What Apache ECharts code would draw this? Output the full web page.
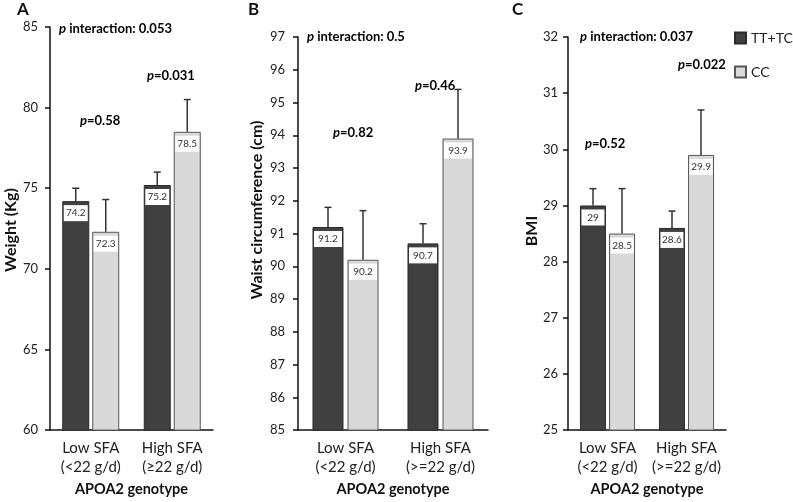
<!DOCTYPE html>
<html>
<head>
<meta charset="utf-8">
<script src="https://cdn.jsdelivr.net/npm/echarts@6/dist/echarts.min.js"></script>
<style>html,body{margin:0;padding:0;background:#fff;}#chart{width:793px;height:502px;}</style>
</head>
<body>
<div id="chart"></div>
<script>
// ---- data ----
var categoriesA = ['Low SFA\n(<22 g/d)', 'High SFA\n(\u226522 g/d)'];
var categoriesBC = ['Low SFA\n(<22 g/d)', 'High SFA\n(>=22 g/d)'];
var seriesNames = ['TT+TC', 'CC'];

var weightTT = [74.2, 75.2];
var weightCC = [72.3, 78.5];
var weightErrTT = [0.8, 0.8];
var weightErrCC = [2.0, 2.0];

var waistTT = [91.2, 90.7];
var waistCC = [90.2, 93.9];
var waistErrTT = [0.6, 0.6];
var waistErrCC = [1.5, 1.5];

var bmiTT = [29, 28.6];
var bmiCC = [28.5, 29.9];
var bmiErrTT = [0.3, 0.3];
var bmiErrCC = [0.8, 0.8];

var yAxisNames = ['Weight (Kg)', 'Waist circumference (cm)', 'BMI'];
var xAxisName = 'APOA2 genotype';
var panelLetters = ['A', 'B', 'C'];
var pInteraction = ['0.053', '0.5', '0.037'];
var pLow = ['0.58', '0.82', '0.52'];
var pHigh = ['0.031', '0.46', '0.022'];

// ---- styling ----
var FONT = 'Lato, "Open Sans", sans-serif';
var DARK = '#404040', LIGHT = '#d9d9d9';
var panels = [
  {left: 50, top: 27, width: 163, height: 406, min: 60, max: 85, interval: 5, barW: 27, gap: 3, labelMargin: 12, cats: categoriesA,
   tt: weightTT, cc: weightCC, ett: weightErrTT, ecc: weightErrCC, title: [11, 230]},
  {left: 298, top: 37, width: 190, height: 396, min: 85, max: 97, interval: 1, barW: 31, gap: 4, labelMargin: 13, cats: categoriesBC,
   tt: waistTT, cc: waistCC, ett: waistErrTT, ecc: waistErrCC, title: [257, 210]},
  {left: 568, top: 37, width: 158, height: 396, min: 25, max: 32, interval: 1, barW: 26, gap: 3, labelMargin: 10, cats: categoriesBC,
   tt: bmiTT, cc: bmiCC, ett: bmiErrTT, ecc: bmiErrCC, title: [532, 231]}
];

var grids = [], xAxes = [], yAxes = [], series = [];

function errSeries(gi, vals, errs, offset) {
  return {
    type: 'custom', xAxisIndex: gi, yAxisIndex: gi, z: 5, silent: true,
    encode: {x: 0, y: 1},
    data: vals.map(function (v, i) { return [i, v, errs[i]]; }),
    renderItem: function (params, api) {
      var b = api.coord([api.value(0), api.value(1)]);
      var t = api.coord([api.value(0), api.value(1) + api.value(2)]);
      var x = b[0] + offset;
      var st = {stroke: '#333', lineWidth: 1.5};
      return {type: 'group', children: [
        {type: 'line', shape: {x1: x, y1: b[1], x2: x, y2: t[1]}, style: st},
        {type: 'line', shape: {x1: x - 3.5, y1: t[1], x2: x + 3.5, y2: t[1]}, style: st}
      ]};
    }
  };
}

panels.forEach(function (p, gi) {
  grids.push({left: p.left, top: p.top, width: p.width, height: p.height, containLabel: false});
  xAxes.push({
    type: 'category', gridIndex: gi, data: p.cats,
    axisLine: {lineStyle: {color: '#111', width: 1.5}},
    axisTick: {show: false},
    axisLabel: {fontFamily: FONT, fontSize: 15, color: '#222', lineHeight: 19, margin: 9, interval: 0},
    name: xAxisName, nameLocation: 'middle', nameGap: 50,
    nameTextStyle: {fontFamily: FONT, fontSize: 14.5, fontWeight: 'bold', color: '#111'}
  });
  yAxes.push({
    type: 'value', gridIndex: gi, min: p.min, max: p.max, interval: p.interval,
    splitLine: {show: false},
    axisLine: {show: true, lineStyle: {color: '#111', width: 1.5}},
    axisTick: {show: true, length: 5, lineStyle: {color: '#111', width: 1.5}},
    axisLabel: {fontFamily: FONT, fontSize: 13, color: '#222', margin: p.labelMargin}
  });
  var gapPct = Math.round(p.gap / p.barW * 100) + '%';
  var lbl = {
    show: true, position: 'insideTop', distance: 4,
    backgroundColor: '#fff', width: p.barW - 3, align: 'center',
    padding: [3, 0], lineHeight: 10,
    fontFamily: FONT, fontSize: 10, color: '#333'
  };
  series.push({
    type: 'bar', name: seriesNames[0], xAxisIndex: gi, yAxisIndex: gi, data: p.tt,
    barWidth: p.barW, barGap: gapPct,
    itemStyle: {color: DARK, borderColor: '#2a2a2a', borderWidth: 1},
    label: lbl
  });
  series.push({
    type: 'bar', name: seriesNames[1], xAxisIndex: gi, yAxisIndex: gi, data: p.cc,
    barWidth: p.barW, barGap: gapPct,
    itemStyle: {color: LIGHT, borderColor: '#555', borderWidth: 1},
    label: lbl
  });
  var off = (p.barW + p.gap) / 2;
  series.push(errSeries(gi, p.tt, p.ett, -off));
  series.push(errSeries(gi, p.cc, p.ecc, off));
});

var rich = {
  i: {fontFamily: FONT, fontSize: 13, fontWeight: 'bold', fontStyle: 'italic', color: '#111'},
  b: {fontFamily: FONT, fontSize: 13, fontWeight: 'bold', color: '#111'}
};
function ptext(x, y, str) {
  return {type: 'text', x: x, y: y, style: {text: str, rich: rich, verticalAlign: 'middle', align: 'left'}};
}
var annPos = [
  {letter: [17, 10], inter: [59, 29], low: [80, 121], high: [147, 76]},
  {letter: [248, 10], inter: [307, 37], low: [333, 133], high: [415, 86]},
  {letter: [512, 10], inter: [580, 37], low: [585, 144], high: [678, 65]}
];
var graphics = [];
annPos.forEach(function (a, i) {
  graphics.push({type: 'text', x: a.letter[0], y: a.letter[1], style: {text: panelLetters[i], fontFamily: FONT, fontSize: 17, fontWeight: 'bold', fill: '#111', verticalAlign: 'middle'}});
  graphics.push(ptext(a.inter[0], a.inter[1], '{i|p}{b| interaction: ' + pInteraction[i] + '}'));
  graphics.push(ptext(a.low[0], a.low[1], '{i|p}{b|=' + pLow[i] + '}'));
  graphics.push(ptext(a.high[0], a.high[1], '{i|p}{b|=' + pHigh[i] + '}'));
  var t = panels[i].title;
  graphics.push({type: 'text', x: t[0], y: t[1], rotation: Math.PI / 2,
    style: {text: yAxisNames[i], fontFamily: FONT, fontSize: 16, fontWeight: 'bold', fill: '#111', align: 'center', verticalAlign: 'middle'}});
});

var chart = echarts.init(document.getElementById('chart'), null, {renderer: 'canvas'});
chart.setOption({
  animation: false,
  backgroundColor: '#fff',
  grid: grids, xAxis: xAxes, yAxis: yAxes, series: series,
  legend: {
    data: seriesNames, orient: 'vertical', left: 734, top: 31, padding: 0,
    itemWidth: 11, itemHeight: 11, itemGap: 20,
    icon: 'rect',
    textStyle: {fontFamily: FONT, fontSize: 14, color: '#222'}
  },
  graphic: graphics
});
</script>
</body>
</html>
